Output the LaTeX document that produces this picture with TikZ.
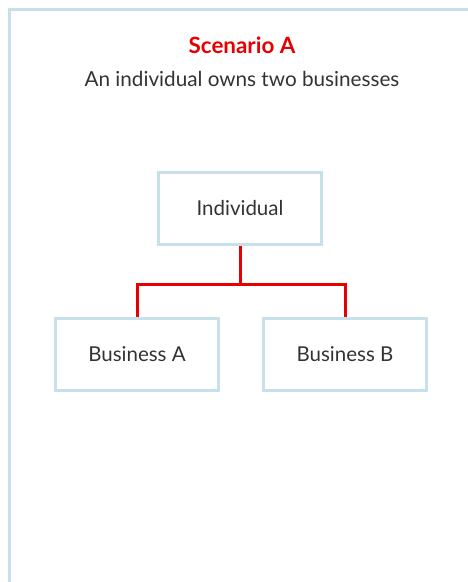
\documentclass[tikz,border=0pt]{standalone}
\usepackage{fontspec}
\setmainfont{Lato}
\usetikzlibrary{positioning}
\definecolor{framebl}{HTML}{C8E0E9}
\definecolor{vred}{HTML}{E60000}
\definecolor{txtgray}{HTML}{333333}

\begin{document}
\begin{tikzpicture}[
  x=1pt, y=-1pt,
  box/.style={draw=framebl, line width=2.5pt, minimum width=163pt, minimum height=72pt,
    inner sep=0pt, font=\fontsize{20.5}{24}\selectfont, text=txtgray},
  link/.style={draw=vred, line width=3pt},
  frame/.style={draw=framebl, line width=3pt}
]
  \useasboundingbox (0,0) rectangle (468,582);

  % Frame
  \draw[frame] (468,9.5) -- (9.5,9.5) -- (9.5,582);

  % Heading
  \node[font=\bfseries\fontsize{22.4}{26}\selectfont, text=vred] (title) at (242,45) {Scenario A};
  \node[font=\fontsize{20.7}{24}\selectfont, text=txtgray] (sub) at (242,79) {An individual owns two businesses};

  % Boxes
  \node[box] (ind) at (240,208.5) {Individual};
  \node[box] (ba) at (137,354.5) {Business A};
  \node[box] (bb) at (345,354.5) {Business B};

  % Links
  \coordinate[below=39pt of ind.south] (j);
  \draw[link] (ind.south) -- (j) -| (ba.north);
  \draw[link] (j) -| (bb.north);
\end{tikzpicture}
\end{document}
